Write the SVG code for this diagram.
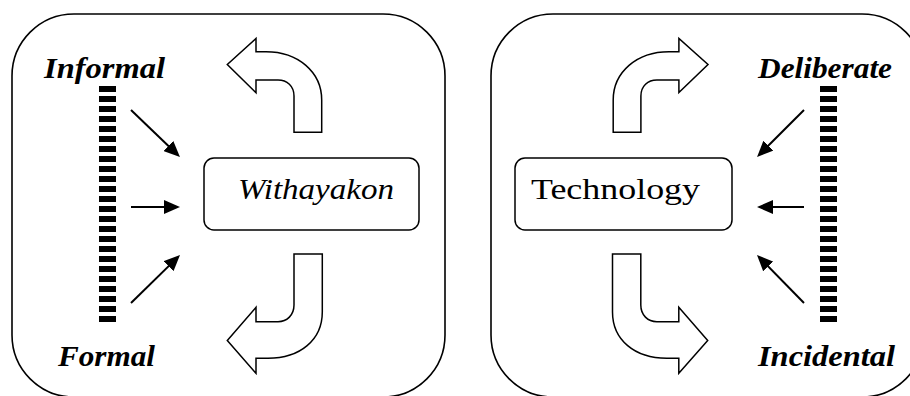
<svg xmlns="http://www.w3.org/2000/svg" width="910" height="396" viewBox="0 0 910 396">
<style>
.panel{fill:none;stroke:#000;stroke-width:1.6}
.box{fill:#fff;stroke:#000;stroke-width:1.5}
.big{fill:#fff;stroke:#000;stroke-width:1.5;stroke-linejoin:miter}
.bar{stroke:#000;stroke-width:17;stroke-dasharray:6 4;fill:none}
.lab{font-family:"Liberation Serif","Times New Roman",serif;font-weight:bold;font-style:italic;font-size:29px;fill:#000}
.node{font-family:"Liberation Serif","Times New Roman",serif;font-size:30px;fill:#000}
.con{stroke:#000;stroke-width:2;fill:none;marker-end:url(#ah)}
</style>
<defs>
<marker id="ah" markerUnits="userSpaceOnUse" markerWidth="16" markerHeight="14" viewBox="0 0 16 14" refX="8" refY="7" orient="auto">
<path d="M0,0 L16,7 L0,14 Z" fill="#000"/>
</marker>
</defs>
<g id="panel-left"><rect class="panel" x="12" y="14" width="433" height="383" rx="62" ry="62"/></g>
<g id="panel-right"><rect class="panel" x="491" y="14" width="433" height="383" rx="62" ry="62"/></g>
<g id="bar-left"><line class="bar" x1="107.5" y1="86" x2="107.5" y2="322"/></g>
<g id="bar-right"><line class="bar" x1="828.5" y1="86" x2="828.5" y2="322"/></g>
<g id="label-informal"><text class="lab" x="44" y="78" textLength="121" lengthAdjust="spacingAndGlyphs">Informal</text></g>
<g id="label-formal"><text class="lab" x="58" y="366" textLength="97" lengthAdjust="spacingAndGlyphs">Formal</text></g>
<g id="label-deliberate"><text class="lab" x="758" y="78" textLength="134" lengthAdjust="spacingAndGlyphs">Deliberate</text></g>
<g id="label-incidental"><text class="lab" x="758" y="366" textLength="137" lengthAdjust="spacingAndGlyphs">Incidental</text></g>
<g id="node-withayakon">
<rect class="box" x="204" y="158" width="215" height="72" rx="10" ry="10"/>
<text class="node" x="238" y="199" font-style="italic" textLength="156" lengthAdjust="spacingAndGlyphs">Withayakon</text>
</g>
<g id="node-technology">
<rect class="box" x="515" y="158" width="217" height="72" rx="10" ry="10"/>
<text class="node" x="531" y="199" textLength="169" lengthAdjust="spacingAndGlyphs">Technology</text>
</g>
<g id="big-arrows">
<path id="arrow-tl" class="big" d="M321.7,132.3 L321.7,100 C321.7,72 298,51.7 266,51.7 L256,51.7 L256,38.5 L227.3,64.5 L256,92.7 L256,80 L278,80 C287,80 294,86 294,96 L294,132.3 Z"/>
<path id="arrow-bl" class="big" d="M294,254 L322.3,254 L322.3,312 C322.3,340 300,358.3 268,358.3 L256,358.3 L256,373.3 L227.3,340.5 L256,307.3 L256,321.7 L278,321.7 C287,321.7 294,315 294,305 Z"/>
<path id="arrow-tr" class="big" d="M613.2,132.3 L613.2,100 C613.2,72 636.9,51.7 668.9,51.7 L678.9,51.7 L678.9,38.5 L708,64.5 L678.9,92.5 L678.9,80 L656.9,80 C647.9,80 640.9,86 640.9,96 L640.9,132.3 Z"/>
<path id="arrow-br" class="big" d="M640.8,254 L612.5,254 L612.5,312 C612.5,340 634.8,358.3 666.8,358.3 L678.8,358.3 L678.8,373.3 L707.7,340.5 L678.8,307.3 L678.8,321.7 L656.8,321.7 C647.8,321.7 640.8,315 640.8,305 Z"/>
</g>
<g id="connectors">
<line class="con" x1="131" y1="110" x2="174.2" y2="151.5"/>
<line class="con" x1="131" y1="207" x2="172" y2="207"/>
<line class="con" x1="131" y1="303" x2="174.3" y2="260.6"/>
<line class="con" x1="804" y1="110" x2="762.7" y2="151.3"/>
<line class="con" x1="804" y1="207" x2="765" y2="207"/>
<line class="con" x1="804" y1="303" x2="762.6" y2="260.7"/>
</g>
</svg>
